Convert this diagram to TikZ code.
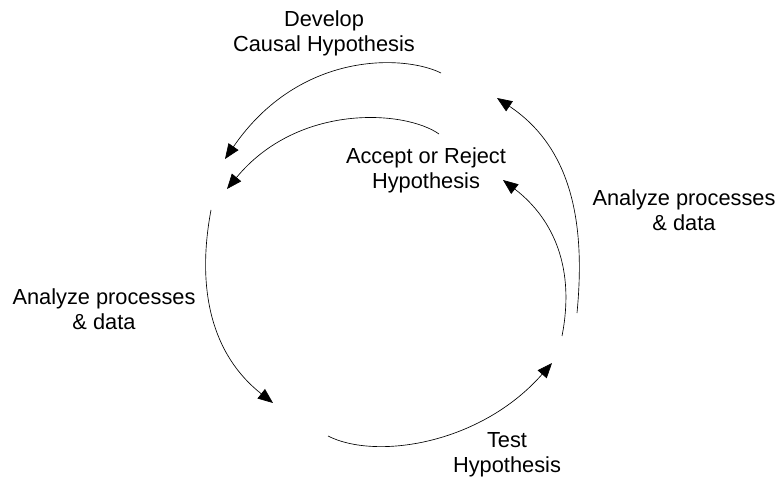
\documentclass[tikz,border=0pt]{standalone}
\usepackage{fontspec}
\setmainfont{Liberation Sans}
\usetikzlibrary{arrows.meta}

\tikzset{
  cycarrow/.style={draw=black, line width=0.65pt, -{Triangle[length=15pt,width=12pt]}},
  cyclabel/.style={align=center, font=\fontsize{21.8}{25}\selectfont}
}

\begin{document}
\begin{tikzpicture}[x=1pt, y=-1pt]
  \useasboundingbox (0,0) rectangle (779,481);
  % labels
  \node[cyclabel] (develop) at (324,33) {Develop\\Causal Hypothesis};
  \node[cyclabel] (accept) at (426,170) {Accept or Reject\\Hypothesis};
  \node[cyclabel] (analyzeR) at (684,210) {Analyze processes\\\& data};
  \node[cyclabel] (analyzeL) at (104,309) {Analyze processes\\\& data};
  \node[cyclabel] (test) at (507,455) {Test\\Hypothesis};
  % arc end points
  \coordinate (devS) at (441,73);
  \coordinate (devE) at (225,159);
  \coordinate (accS) at (439,134);
  \coordinate (accE) at (227,189);
  \coordinate (leftS) at (211,210);
  \coordinate (leftE) at (273,403);
  \coordinate (botS) at (328,436);
  \coordinate (botE) at (552,363);
  \coordinate (outS) at (577,313);
  \coordinate (outE) at (497,98);
  \coordinate (inS) at (562,336);
  \coordinate (inE) at (503,180);
  % cycle arcs
  \draw[cycarrow] (devS) .. controls (405,55) and (300,50) .. (devE);
  \draw[cycarrow] (accS) .. controls (405,110) and (298,103) .. (accE);
  \draw[cycarrow] (leftS) .. controls (196,290) and (212,355) .. (leftE);
  \draw[cycarrow] (botS) .. controls (375,460) and (480,445) .. (botE);
  \draw[cycarrow] (outS) .. controls (585,230) and (575,150) .. (outE);
  \draw[cycarrow] (inS) .. controls (575,270) and (555,220) .. (inE);
\end{tikzpicture}
\end{document}
